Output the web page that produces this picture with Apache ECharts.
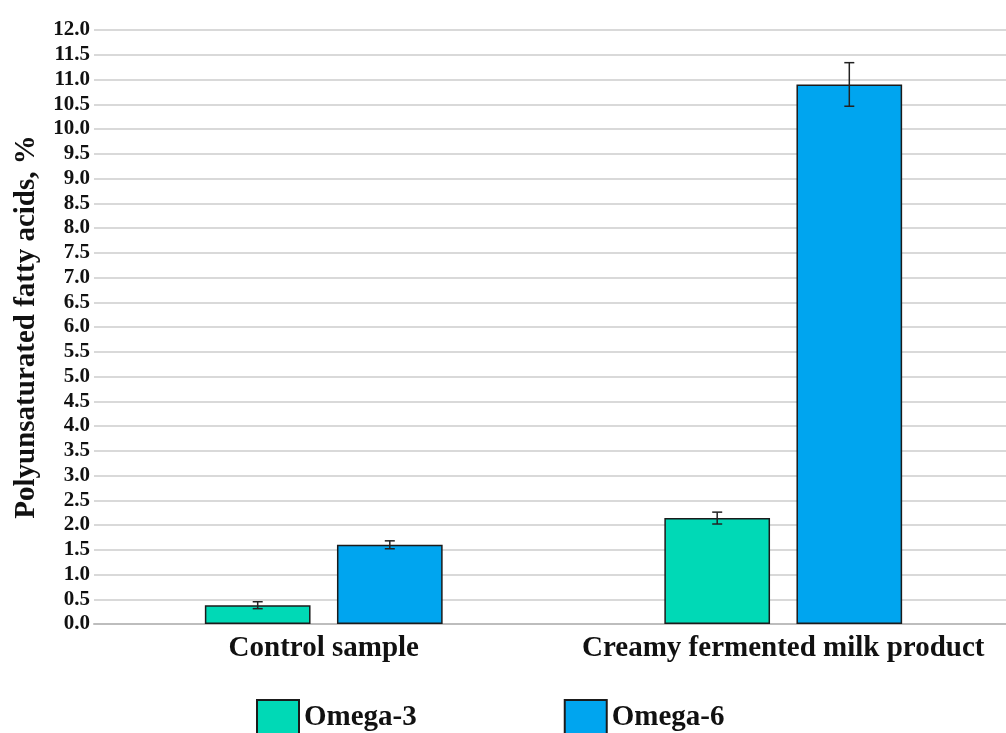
<!DOCTYPE html>
<html>
<head>
<meta charset="utf-8">
<script src="https://cdn.jsdelivr.net/npm/echarts@6/dist/echarts.min.js"></script>
<style>
  html, body { margin: 0; padding: 0; background: #fff; }
  #chart { width: 1006px; height: 733px; }
</style>
</head>
<body>
<div id="chart"></div>
<script>
// data
var categories = ['Control sample', 'Creamy fermented milk product'];
var omega3 = [0.38, 2.14];
var omega6 = [1.60, 10.90];
var omega3Err = [0.07, 0.12];
var omega6Err = [0.08, 0.44];

var serif = '"Liberation Serif", "DejaVu Serif", serif';
var chart = echarts.init(document.getElementById('chart'));

// error bars drawn over grouped bars; offset matches barWidth 23% / barGap 25%
function errorSeries(name, values, errs, side) {
    var data = values.map(function (v, i) { return [i, v - errs[i], v + errs[i]]; });
    return {
        type: 'custom',
        name: name,
        silent: true,
        z: 10,
        data: data,
        renderItem: function (params, api) {
            var band = api.size([1, 0])[0];
            var lo = api.coord([api.value(0), api.value(1)]);
            var hi = api.coord([api.value(0), api.value(2)]);
            var x = lo[0] + side * 0.14375 * band;
            var cap = 5;
            var style = { stroke: '#222', lineWidth: 1.5 };
            return {
                type: 'group',
                children: [
                    { type: 'line', shape: { x1: x, y1: hi[1], x2: x, y2: lo[1] }, style: style },
                    { type: 'line', shape: { x1: x - cap, y1: hi[1], x2: x + cap, y2: hi[1] }, style: style },
                    { type: 'line', shape: { x1: x - cap, y1: lo[1], x2: x + cap, y2: lo[1] }, style: style }
                ]
            };
        }
    };
}

var option = {
    animation: false,
    grid: { left: 94, right: -7, top: 30, bottom: 109, outerBoundsMode: 'none' },
    legend: {
        data: ['Omega-3', 'Omega-6'],
        left: 251,
        top: 694,
        icon: 'rect',
        itemWidth: 42,
        itemHeight: 36,
        itemGap: 147,
        textStyle: { fontFamily: serif, fontWeight: 'bold', fontSize: 29, color: '#111' }
    },
    xAxis: {
        type: 'category',
        data: categories,
        axisLine: { lineStyle: { color: '#bdbdbd', width: 2 } },
        axisTick: { show: false },
        axisLabel: {
            interval: 0, hideOverlap: false,
            fontFamily: serif, fontWeight: 'bold', fontSize: 29, color: '#111', margin: 10
        }
    },
    yAxis: {
        type: 'value',
        min: 0,
        max: 12,
        interval: 0.5,
        name: 'Polyunsaturated fatty acids, %',
        nameLocation: 'middle',
        nameGap: 53,
        nameTextStyle: { fontFamily: serif, fontWeight: 'bold', fontSize: 29, color: '#111' },
        axisLine: { show: false },
        axisTick: { show: false },
        axisLabel: {
            fontFamily: serif, fontWeight: 'bold', fontSize: 21, color: '#111', margin: 4,
            formatter: function (v) { return v.toFixed(1); }
        },
        splitLine: { lineStyle: { color: '#d9d9d9', width: 2 } }
    },
    series: [
        {
            name: 'Omega-3',
            type: 'bar',
            data: omega3,
            barWidth: '23%',
            barGap: '25%',
            itemStyle: { color: '#00d9b6', borderColor: '#1b1b1b', borderWidth: 1.5 }
        },
        {
            name: 'Omega-6',
            type: 'bar',
            data: omega6,
            barWidth: '23%',
            itemStyle: { color: '#00a5ef', borderColor: '#1b1b1b', borderWidth: 1.5 }
        },
        errorSeries('Omega-3 err', omega3, omega3Err, -1),
        errorSeries('Omega-6 err', omega6, omega6Err, 1)
    ]
};

chart.setOption(option);
</script>
</body>
</html>
